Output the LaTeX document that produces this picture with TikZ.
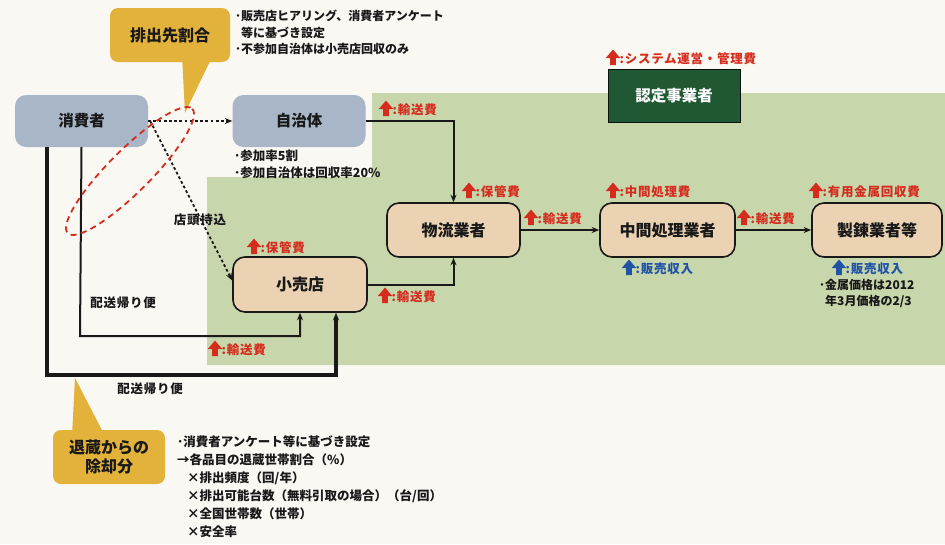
\documentclass[tikz,border=0pt]{standalone}
\usepackage{fontspec}
\setmainfont{Noto Sans CJK JP}
\usetikzlibrary{arrows.meta,calc}
\definecolor{bgc}{RGB}{250,248,242}
\definecolor{greenbg}{RGB}{199,214,171}
\definecolor{nodeblue}{RGB}{168,182,200}
\definecolor{tan}{RGB}{234,210,178}
\definecolor{darkgreen}{RGB}{32,88,52}
\definecolor{gold}{RGB}{226,178,58}
\definecolor{redc}{RGB}{214,44,30}
\definecolor{bluec}{RGB}{32,82,165}
\definecolor{ink}{RGB}{25,25,25}
\newcommand\costmark[5]{%
  \fill[#5,shift={(#2,#3)}] (-2.8,7) -- (-2.8,0) -- (-7.2,0) -- (0,-8.5) -- (7.2,0) -- (2.8,0) -- (2.8,7) -- cycle;
  \node[lab,text=#5,anchor=west] (#1) at (#2+6.5,#3+0.5) {:#4};}
\begin{document}
\begin{tikzpicture}[x=1pt,y=-1pt,
  bluebox/.style={rectangle,rounded corners=11pt,fill=nodeblue,minimum width=133pt,minimum height=52pt,inner sep=0pt,font=\bfseries\fontsize{15.5}{16}\selectfont,text=ink},
  tanbox/.style={rectangle,rounded corners=12pt,fill=tan,draw=ink,line width=1.6pt,minimum width=132pt,minimum height=53pt,inner sep=0pt,font=\bfseries\fontsize{16}{16}\selectfont,text=ink},
  callout/.style={rectangle,rounded corners=8pt,fill=gold,inner sep=0pt,font=\bfseries\fontsize{16}{19}\selectfont,text=ink,align=center},
  lab/.style={inner sep=0pt,font=\bfseries\fontsize{12.5}{13}\selectfont\addfontfeatures{LetterSpace=6}},
  note/.style={inner sep=0pt,font=\bfseries\fontsize{12}{16.5}\selectfont,text=ink,align=left},
  conn/.style={draw=ink,line width=2pt,-{Stealth[length=7.5pt,width=6pt]}},
  dotconn/.style={draw=ink,line width=1.8pt,dash pattern=on 2.8pt off 2.4pt,-{Stealth[length=7.5pt,width=6pt]}}
]
\useasboundingbox (0,0) rectangle (945,544);
\fill[bgc] (0,0) rectangle (945,544);
% green area
\fill[greenbg] (207,177) -- (372,177) -- (372,93) -- (945,93) -- (945,365) -- (207,365) -- cycle;

% callouts
\fill[gold] (182,55) -- (185,113) -- (213,55) -- cycle;
\node[callout,minimum width=120pt,minimum height=54pt] (co1) at (170,35) {排出先割合};
\fill[gold] (72,436) -- (75,378) -- (105,436) -- cycle;
\node[callout,minimum width=112pt,minimum height=54pt] (co2) at (109,457) {退蔵からの\\除却分};

% nodes
\node[bluebox] (cons) at (81.5,121) {消費者};
\node[bluebox] (muni) at (299,121) {自治体};
\node[tanbox,minimum width=134pt,minimum height=55pt] (shop) at (300,284.5) {小売店};
\node[tanbox,minimum width=133pt,minimum height=54pt] (log) at (453.5,230) {物流業者};
\node[tanbox,minimum width=135pt,minimum height=54pt] (mid) at (667.5,230) {中間処理業者};
\node[tanbox,minimum width=130pt,minimum height=54pt] (smelt) at (877,230) {製錬業者等};
\node[rectangle,fill=darkgreen,draw=black!80!darkgreen,line width=1pt,minimum width=132pt,minimum height=53pt,font=\bfseries\fontsize{15.5}{16}\selectfont,text=white] (nintei) at (674,96) {認定事業者};

% connectors
\coordinate (c1) at (47,375);
\coordinate (c2) at (80,336);
\draw[conn,line width=3.5pt] (cons.south -| c1) -- (c1) -| ([xshift=36pt]shop.south);
\draw[conn] (cons.south) -- (c2) -| (shop.south);
\draw[dotconn] (cons.east) -- (muni.west);
\draw[dotconn] ([xshift=2pt]cons.east) -- ([yshift=4pt]shop.west);
\draw[conn] (muni.east) -| (log.north);
\draw[conn] (shop.east) -| (log.south);
\draw[conn] (log.east) -- (mid.west);
\draw[conn] (mid.east) -- (smelt.west);

% red dashed ellipse
\draw[redc,line width=1.8pt,dash pattern=on 6pt off 4.5pt,rotate around={45:(130,171)}] (130,171) ellipse (88 and 21);

% texts
\node[note,anchor=north west] (t1) at (235,10) {･販売店ヒアリング、消費者アンケート\\\hspace{0.5em}等に基づき設定\\･不参加自治体は小売店回収のみ};
\node[note,anchor=north west,font=\bfseries\fontsize{12.5}{17}\selectfont] (t2) at (234,149.5) {･参加率5割\\･参加自治体は回収率20\%};
\node[lab,text=ink] (tt) at (200,220) {店頭持込};
\node[lab,text=ink] (hk1) at (123,303) {配送帰り便};
\node[lab,text=ink] (hk2) at (150,389) {配送帰り便};
\node[note,anchor=north west,font=\bfseries\fontsize{12}{15.5}\selectfont] (t3) at (819,279) {･金属価格は2012\\\hspace{0.5em}年3月価格の2/3};
\node[note,anchor=north west,font=\bfseries\fontsize{12.5}{18}\selectfont] (t4) at (177,435) {･消費者アンケート等に基づき設定\\→各品目の退蔵世帯割合（\%）\\\hspace{0.8em}×排出頻度（回/年）\\\hspace{0.8em}×排出可能台数（無料引取の場合）（台/回）\\\hspace{0.8em}×全国世帯数（世帯）\\\hspace{0.8em}×安全率};

% cost marks
\costmark{m1}{386}{109}{輸送費}{redc}
\costmark{m2}{469}{191}{保管費}{redc}
\costmark{m3}{613}{191}{中間処理費}{redc}
\costmark{m4}{816}{191}{有用金属回収費}{redc}
\costmark{m5}{531}{218}{輸送費}{redc}
\costmark{m6}{744}{218}{輸送費}{redc}
\costmark{m7}{254}{247}{保管費}{redc}
\costmark{m8}{385}{296}{輸送費}{redc}
\costmark{m9}{215}{349}{輸送費}{redc}
\costmark{m10}{613}{58}{システム運営・管理費}{redc}
\costmark{m11}{629}{268}{販売収入}{bluec}
\costmark{m12}{839}{268}{販売収入}{bluec}
\end{tikzpicture}
\end{document}
